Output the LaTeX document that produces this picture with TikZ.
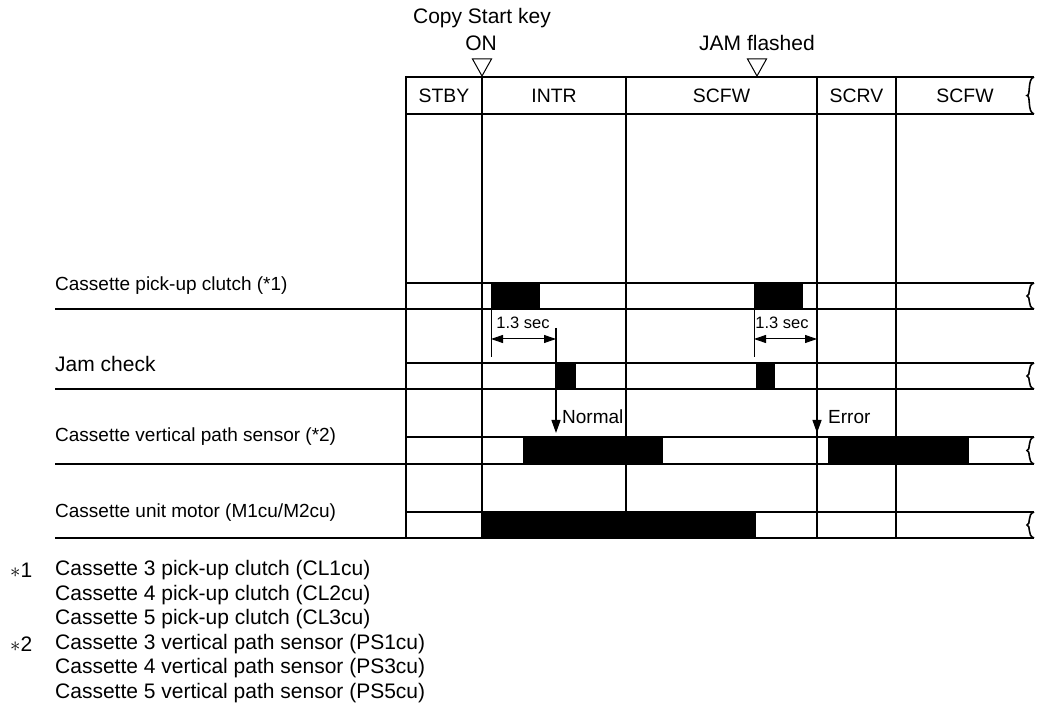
\documentclass[tikz,border=0pt]{standalone}
\usepackage{fontspec}
\setmainfont{Liberation Sans}
\usetikzlibrary{arrows.meta}

\begin{document}
\begin{tikzpicture}[
  x=1pt, y=-1pt,
  >={Triangle[length=13pt,width=9pt]},
  hdr/.style={font=\fontsize{19.4}{22}\selectfont, inner sep=0pt},
  sig/.style={font=\fontsize{19}{22}\selectfont, inner sep=0pt, anchor=west},
  big/.style={font=\fontsize{21}{24}\selectfont, inner sep=0pt},
  note/.style={font=\fontsize{21}{24}\selectfont, inner sep=0pt, anchor=west},
  dimtxt/.style={font=\fontsize{16.5}{19}\selectfont, inner sep=0pt},
  thk/.style={line width=2pt},
  rowtop/.style={line width=1.6pt},
  vline/.style={line width=1.3pt},
  thin/.style={line width=1pt},
  pulse/.style={fill=black},
  brk/.style={line width=1.6pt},
]
  \useasboundingbox (0,0) rectangle (1037,708);

  %% Event marks above the chart
  \node[big] (cs_t) at (482,18) {Copy Start key};
  \node[big] (on_t) at (481,43) {ON};
  \node[big] (jf_t) at (757,43) {JAM flashed};
  \coordinate (on_tip) at (482,76);
  \coordinate (jf_tip) at (757,76);
  \draw[thin] (on_tip) -- ++(-9.5,-17) -- ++(19,0) -- cycle;
  \draw[thin] (jf_tip) -- ++(-9.5,-17) -- ++(19,0) -- cycle;

  %% State header
  \draw[thk] (406,77) -- (1034,77);
  \draw[thk] (406,114) -- (1034,114);
  \node[hdr] (stby_h) at (444,96)   {STBY};
  \node[hdr] (intr_h) at (554,96)   {INTR};
  \node[hdr] (scfw_h) at (721.5,96) {SCFW};
  \node[hdr] (scrv_h) at (856.5,96) {SCRV};
  \node[hdr] (scfw2_h) at (965,96)  {SCFW};

  %% State boundaries
  \draw[vline] (482,77) -- (482,538);
  \draw[vline] (626,77) -- (626,538);
  \draw[vline] (817,77) -- (817,538);
  \draw[vline] (896,77) -- (896,538);

  %% Signal rows
  \draw[rowtop] (406,283) -- (1034,283);
  \draw[thk] (55,309) -- (1034,309);
  \draw[rowtop] (406,363) -- (1034,363);
  \draw[thk] (55,389) -- (1034,389);
  \draw[rowtop] (406,437) -- (1034,437);
  \draw[thk] (55,464) -- (1034,464);
  \draw[rowtop] (406,512) -- (1034,512);
  \draw[thk] (55,538) -- (1034,538);
  \draw[thk] (406,76) -- (406,539);

  \foreach \ya/\yb in {77/114, 283/309, 363/389, 437/464, 512/538}
    \draw[brk] (1034,\ya) .. controls (1027,\ya+2) and (1031,{0.5*(\ya+\yb)}) .. (1027,{0.5*(\ya+\yb)})
                          .. controls (1031,{0.5*(\ya+\yb)}) and (1027,\yb-2) .. (1034,\yb);

  \node[sig] (pick_l) at (55,286)   {Cassette pick-up clutch (*1)};
  \node[big, anchor=west] (jam_l) at (55,364) {Jam check};
  \node[sig] (sens_l) at (55,437)   {Cassette vertical path sensor (*2)};
  \node[sig] (mot_l) at (55,513)    {Cassette unit motor (M1cu/M2cu)};

  %% Pulses
  \fill[pulse] (491.5,283) rectangle (540,309);
  \fill[pulse] (754,283) rectangle (803,309);
  \fill[pulse] (556,363) rectangle (576,389);
  \fill[pulse] (756,363) rectangle (775,389);
  \fill[pulse] (523,437) rectangle (663,464);
  \fill[pulse] (828,437) rectangle (969,464);
  \fill[pulse] (482,512) rectangle (756,538);

  %% 1.3 sec timers
  \draw[thin] (491,283) -- (491,357);
  \draw[thin] (754,283) -- (754,357);
  \coordinate (d1_l) at (491,339);
  \coordinate (d1_r) at (556,339);
  \coordinate (d2_l) at (754,339);
  \coordinate (d2_r) at (817,339);
  \draw[thin, <->, >={Triangle[length=12pt,width=8pt]}] (d1_l) -- (d1_r);
  \draw[thin, <->, >={Triangle[length=12pt,width=8pt]}] (d2_l) -- (d2_r);
  \node[dimtxt] (d1_t) at (523,323) {1.3 sec};
  \node[dimtxt] (d2_t) at (782,323) {1.3 sec};

  %% Check result
  \coordinate (nm_top) at (556,328);
  \coordinate (nm_tip) at (556,433);
  \coordinate (er_top) at (817,400);
  \coordinate (er_tip) at (817,433);
  \draw[vline, ->] (nm_top) -- (nm_tip);
  \draw[vline, ->] (er_top) -- (er_tip);
  \node[sig] (nm_t) at (562,417) {Normal};
  \node[sig] (er_t) at (828,417) {Error};

  %% Footnotes
  \node[note] (fn1_m) at (10,570) {$\ast$1};
  \node[note] (fn1_a) at (55,570)   {Cassette 3 pick-up clutch (CL1cu)};
  \node[note] (fn1_b) at (55,594.6) {Cassette 4 pick-up clutch (CL2cu)};
  \node[note] (fn1_c) at (55,619.2) {Cassette 5 pick-up clutch (CL3cu)};
  \node[note] (fn2_m) at (10,643.8) {$\ast$2};
  \node[note] (fn2_a) at (55,643.8) {Cassette 3 vertical path sensor (PS1cu)};
  \node[note] (fn2_b) at (55,668.4) {Cassette 4 vertical path sensor (PS3cu)};
  \node[note] (fn2_c) at (55,693)   {Cassette 5 vertical path sensor (PS5cu)};
\end{tikzpicture}
\end{document}
